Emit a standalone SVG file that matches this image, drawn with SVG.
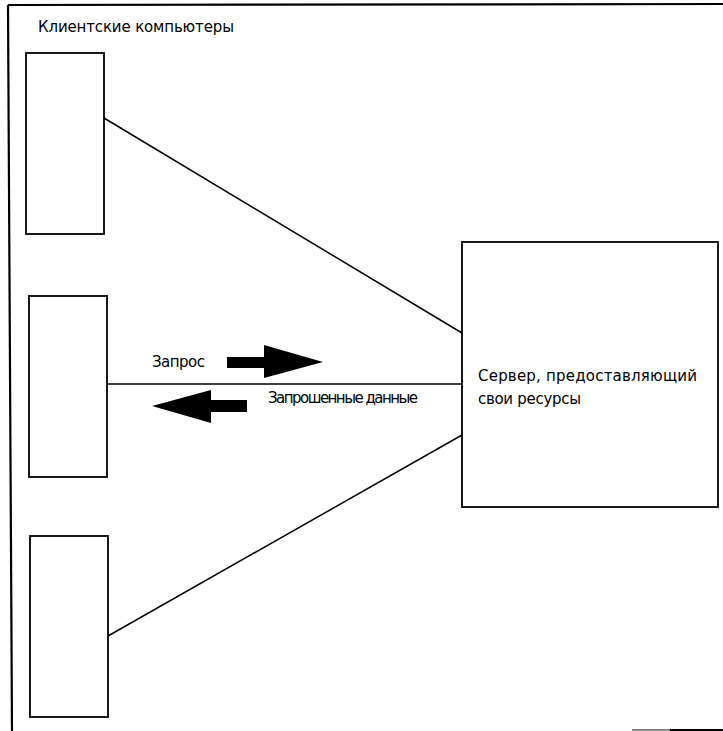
<svg xmlns="http://www.w3.org/2000/svg" width="723" height="731" viewBox="0 0 723 731">
  <style>
    .box { fill: #fff; stroke: #000; stroke-width: 1.8; }
    .frame { stroke: #000; stroke-width: 2.2; fill: none; }
    .link { stroke: #000; stroke-width: 1.5; fill: none; }
    .label { font-family: "DejaVu Sans", "Liberation Sans", sans-serif; font-size: 15px; fill: #000; }
    .arrow { fill: #000; }
  </style>
  <rect width="723" height="731" fill="#fff"/>

  <!-- page frame -->
  <g id="frame">
    <line class="frame" x1="8" y1="5" x2="12" y2="731"/>
    <line class="frame" x1="8" y1="5" x2="723" y2="4"/>
    <line x1="632" y1="730" x2="670" y2="730" stroke="#888" stroke-width="2"/>
    <line x1="670" y1="730" x2="723" y2="730" stroke="#000" stroke-width="2"/>
  </g>

  <text id="title" class="label" x="38" y="32" textLength="196">Клиентские компьютеры</text>

  <!-- connectors -->
  <g id="connectors">
    <line class="link" x1="104" y1="118" x2="462" y2="333"/>
    <line class="link" x1="107" y1="384" x2="462" y2="384"/>
    <line class="link" x1="108" y1="636" x2="462" y2="435"/>
    <!-- request arrow -->
    <path class="arrow" d="M227 357 H264 V345 L323 362 L264 378 V368 H227 Z"/>
    <!-- response arrow -->
    <path class="arrow" d="M247 400 H211 V390 L152 406 L211 423 V412 H247 Z"/>
    <text class="label" x="152" y="367" textLength="53">Запрос</text>
    <text class="label" x="268" y="403" textLength="150">Запрошенные данные</text>
  </g>

  <g id="client1">
    <rect class="box" x="26" y="53" width="78" height="181"/>
  </g>
  <g id="client2">
    <rect class="box" x="29" y="296" width="78" height="181"/>
  </g>
  <g id="client3">
    <rect class="box" x="30" y="536" width="78" height="181"/>
  </g>

  <g id="server">
    <rect class="box" x="462" y="242" width="256" height="265"/>
    <text class="label" x="478" y="381" textLength="219">Сервер, предоставляющий</text>
    <text class="label" x="478" y="404" textLength="103">свои ресурсы</text>
  </g>
</svg>
